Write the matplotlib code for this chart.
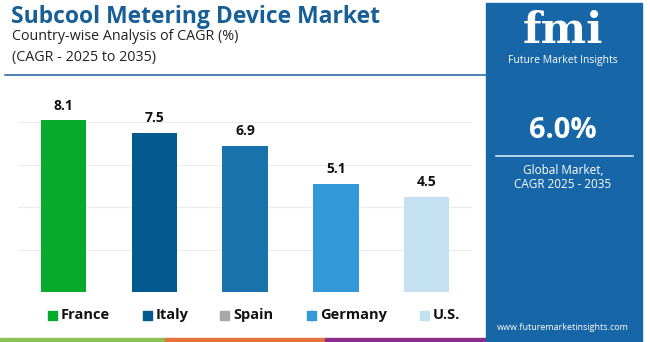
import matplotlib.pyplot as plt
from matplotlib.patches import Rectangle
from matplotlib.lines import Line2D

countries = ['France', 'Italy', 'Spain', 'Germany', 'U.S.']
cagr = [8.1, 7.5, 6.9, 5.1, 4.5]
bar_colors = ['#08aa2c', '#04598f', '#1a72ad', '#3398d7', '#c4e1f2']
legend_colors = ['#08aa2c', '#04598f', '#a8a8a8', '#3398d7', '#c4e1f2']
global_cagr = '6.0%'

W, H = 650, 342
fig = plt.figure(figsize=(W / 100, H / 100), dpi=100)
fig.patch.set_facecolor('white')
FONT = 'Open Sans'


def fx(x):
    return x / W


def fy(y):
    return 1 - y / H


# bar chart
ax = fig.add_axes([fx(18), fy(292), fx(472 - 18), (292 - 101) / H])
ax.bar(range(len(countries)), cagr, width=0.5, color=bar_colors, zorder=3)
for i, v in enumerate(cagr):
    ax.text(i, v + 0.35, f'{v}', ha='center', va='bottom', fontsize=10,
            fontweight='bold', color='#111111', family=FONT)
ax.set_xlim(-0.5, 4.5)
ax.set_ylim(0, 9)
ax.set_yticks([0, 2, 4, 6, 8])
ax.grid(axis='y', color='#ececec', linewidth=0.8, zorder=0)
ax.tick_params(left=False, bottom=False, labelleft=False, labelbottom=False)
for s in ax.spines.values():
    s.set_visible(False)

# titles
fig.text(fx(11), fy(17), 'Subcool Metering Device Market', fontsize=16.5,
         fontweight='bold', color='#175f96', va='center', family=FONT)
fig.text(fx(12), fy(37), 'Country-wise Analysis of CAGR (%)', fontsize=10.3,
         color='#222222', va='center', family=FONT)
fig.text(fx(12), fy(57), '(CAGR - 2025 to 2035)', fontsize=10.3,
         color='#222222', va='center', family=FONT)
fig.add_artist(Line2D([fx(5), fx(487)], [fy(75), fy(75)], color='#2a6fa8', lw=1.2))

# legend
leg_x = [48, 143, 220, 307, 420]
for x, c, name in zip(leg_x, legend_colors, countries):
    fig.add_artist(Rectangle((fx(x), fy(320)), fx(9), 9 / H, color=c))
    fig.text(fx(x + 13), fy(315), name, fontsize=10.5, fontweight='bold',
             color='#111111', va='center', family=FONT)

# bottom strip
for x0, x1, c in [(0, 165, '#8dc056'), (165, 325, '#e8703a'), (325, 487, '#8b2e8a')]:
    fig.add_artist(Rectangle((fx(x0), 0), fx(x1 - x0), 4 / H, color=c))

# side panel
fig.add_artist(Rectangle((fx(486), 0), fx(642 - 486), fy(3), color='#1766a8'))
fig.text(fx(563), fy(43), 'fmi', fontsize=31, fontweight='bold', color='white',
         ha='center', va='baseline', family='DejaVu Serif')
fig.text(fx(563), fy(60), 'Future Market Insights', fontsize=7.5, color='white',
         ha='center', va='center', family=FONT)
fig.text(fx(563), fy(131), global_cagr, fontsize=21, fontweight='bold',
         color='white', ha='center', va='center', family=FONT)
fig.add_artist(Line2D([fx(496), fx(633)], [fy(156), fy(156)], color='#cfe3f3', lw=1.2))
fig.text(fx(563), fy(171), 'Global Market,', fontsize=8.5, color='white',
         ha='center', va='center', family=FONT)
fig.text(fx(563), fy(184), 'CAGR 2025 - 2035', fontsize=8.5, color='white',
         ha='center', va='center', family=FONT)
fig.text(fx(563), fy(327), 'www.futuremarketinsights.com', fontsize=6.5,
         color='white', ha='center', va='center', family=FONT)

fig.savefig('out.png', dpi=100)
